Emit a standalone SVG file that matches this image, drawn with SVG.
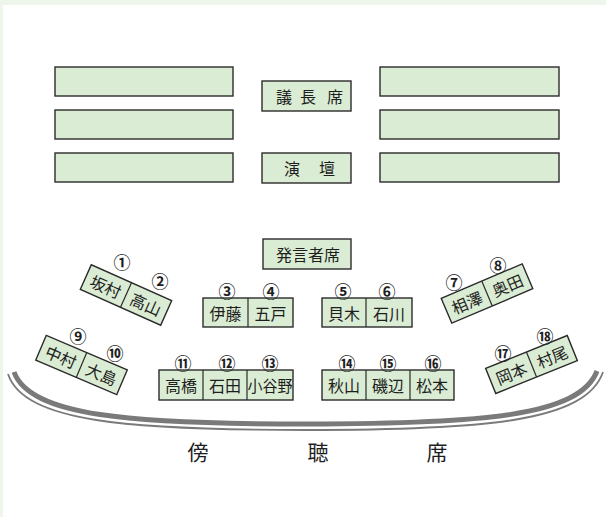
<svg xmlns="http://www.w3.org/2000/svg" width="606" height="517" viewBox="0 0 606 517">
<style>
.b{fill:#daecd3;stroke:#2b2b2b;stroke-width:1.4}
.d{stroke:#2b2b2b;stroke-width:1.2}
.t{font-family:"Noto Sans CJK JP","Noto Sans CJK SC",sans-serif;font-size:16px;fill:#1e1e1e;text-anchor:middle;dominant-baseline:central}
.n{font-family:"Noto Sans CJK JP","Noto Sans CJK SC",sans-serif;font-size:17px;font-weight:700;fill:#1e1e1e;text-anchor:middle;dominant-baseline:central}
.big{font-family:"Noto Sans CJK JP","Noto Sans CJK SC",sans-serif;font-size:21px;fill:#1e1e1e;text-anchor:middle;dominant-baseline:central}
</style>
<rect x="0" y="0" width="606" height="517" fill="#eef6ec"/>
<rect x="3" y="5" width="603" height="512" fill="#ffffff"/>
<g id="arc" fill="none" stroke="#7a7a7a">
<path d="M 14,372 C 30,416 130,424 306,424 C 482,424 580,416 597,371" stroke-width="5"/>
<path d="M 8,374 C 24,422 128,430 306,430 C 484,430 586,422 603,372" stroke-width="1.8"/>
</g>
<g id="left-seats">
<rect class="b" x="55" y="67" width="178" height="29"/>
<rect class="b" x="55" y="110" width="178" height="29"/>
<rect class="b" x="55" y="153" width="178" height="29"/>
</g>
<g id="right-seats">
<rect class="b" x="380" y="67" width="179" height="29"/>
<rect class="b" x="380" y="110" width="179" height="29"/>
<rect class="b" x="380" y="153" width="179" height="29"/>
</g>
<g id="gichoseki">
<rect class="b" x="262" y="81" width="89" height="30"/>
<text class="t" x="284" y="96">議</text><text class="t" x="308" y="96">長</text><text class="t" x="335" y="96">席</text>
</g>
<g id="endan">
<rect class="b" x="262" y="153" width="89" height="30"/>
<text class="t" x="292" y="168">演</text><text class="t" x="327" y="168">壇</text>
</g>
<g id="hatsugensha">
<rect class="b" x="263" y="239" width="88" height="30"/>
<text class="t" x="308" y="254">発言者席</text>
</g>
<g id="seat-1-2">
<g transform="translate(126,295) rotate(24)">
<rect class="b" x="-44" y="-13.5" width="88" height="27"/>
<line class="d" x1="0" y1="-13.5" x2="0" y2="13.5"/>
<text class="t" x="-22" y="0">坂村</text><text class="t" x="22" y="0">高山</text>
</g>
<text class="n" x="122" y="261">①</text><text class="n" x="160" y="280">②</text>
</g>
<g id="seat-3-4">
<rect class="b" x="203" y="298" width="90" height="29"/>
<line class="d" x1="248" y1="298" x2="248" y2="327"/>
<text class="t" x="225.5" y="312.5">伊藤</text><text class="t" x="270.5" y="312.5">五戸</text>
<text class="n" x="227" y="290">③</text><text class="n" x="271" y="290">④</text>
</g>
<g id="seat-5-6">
<rect class="b" x="322" y="298" width="90" height="29"/>
<line class="d" x1="366" y1="298" x2="366" y2="327"/>
<text class="t" x="344" y="312.5">貝木</text><text class="t" x="389" y="312.5">石川</text>
<text class="n" x="343" y="290">⑤</text><text class="n" x="387" y="290">⑥</text>
</g>
<g id="seat-7-8">
<g transform="translate(487,293.5) rotate(-23)">
<rect class="b" x="-44" y="-13.5" width="88" height="27"/>
<line class="d" x1="0" y1="-13.5" x2="0" y2="13.5"/>
<text class="t" x="-22" y="0">相澤</text><text class="t" x="22" y="0">奥田</text>
</g>
<text class="n" x="454" y="281">⑦</text><text class="n" x="498" y="264">⑧</text>
</g>
<g id="seat-9-10">
<g transform="translate(81.5,365) rotate(23)">
<rect class="b" x="-44" y="-13.5" width="88" height="27"/>
<line class="d" x1="0" y1="-13.5" x2="0" y2="13.5"/>
<text class="t" x="-22" y="0">中村</text><text class="t" x="22" y="0">大島</text>
</g>
<text class="n" x="78" y="335">⑨</text><text class="n" x="115" y="352">⑩</text>
</g>
<g id="seat-11-13">
<rect class="b" x="159" y="370" width="134" height="30"/>
<line class="d" x1="203" y1="370" x2="203" y2="400"/>
<line class="d" x1="247" y1="370" x2="247" y2="400"/>
<text class="t" x="181" y="385">高橋</text><text class="t" x="225" y="385">石田</text><text class="t" x="270" y="385" textLength="45" lengthAdjust="spacingAndGlyphs">小谷野</text>
<text class="n" x="183" y="362">⑪</text><text class="n" x="227" y="362">⑫</text><text class="n" x="270" y="362">⑬</text>
</g>
<g id="seat-14-16">
<rect class="b" x="322" y="370" width="132" height="30"/>
<line class="d" x1="366" y1="370" x2="366" y2="400"/>
<line class="d" x1="410" y1="370" x2="410" y2="400"/>
<text class="t" x="344" y="385">秋山</text><text class="t" x="388" y="385">磯辺</text><text class="t" x="432" y="385">松本</text>
<text class="n" x="347" y="362">⑭</text><text class="n" x="388" y="362">⑮</text><text class="n" x="433" y="362">⑯</text>
</g>
<g id="seat-17-18">
<g transform="translate(531.5,364.5) rotate(-22)">
<rect class="b" x="-44" y="-13.5" width="88" height="27"/>
<line class="d" x1="0" y1="-13.5" x2="0" y2="13.5"/>
<text class="t" x="-22" y="0">岡本</text><text class="t" x="22" y="0">村尾</text>
</g>
<text class="n" x="503" y="352">⑰</text><text class="n" x="545" y="335">⑱</text>
</g>
<g id="bouchouseki">
<text class="big" x="198" y="451">傍</text><text class="big" x="318" y="451">聴</text><text class="big" x="437" y="451">席</text>
</g>
</svg>
